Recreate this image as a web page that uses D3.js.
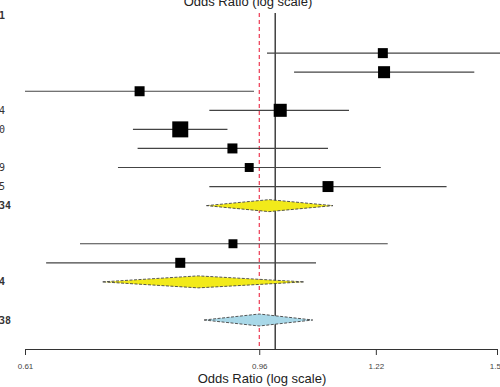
<!DOCTYPE html>
<html>
<head>
<meta charset="utf-8">
<script src="https://cdn.jsdelivr.net/npm/d3@7"></script>
<style>
  body { margin: 0; background: #fff; }
  svg { display: block; }
</style>
</head>
<body>
<div id="container"></div>
<script>
/* CONSTANTS AND GLOBALS */
const width = 500;
const height = 387;

/* DATA */
// one entry per row, top to bottom
const rowLabels = ["1", "", "", "", "", "4", "0", "", "9", "5", "34", "", "", "", "4", "", "38"];
const rowTypes = ["header", "blank", "study", "study", "study", "study", "study", "study", "study", "study",
  "summary", "blank", "study", "study", "summary", "blank", "overall"];
const orEst  = [null, null, 1.237, 1.240, 0.765, 1.010, 0.829, 0.919, 0.950, 1.110, 0.988, null, 0.920, 0.829, 0.859, null, 0.969];
const orLow  = [null, null, 0.984, 1.038, 0.610, 0.878, 0.755, 0.762, 0.733, 0.878, 0.873, null, 0.680, 0.636, 0.711, null, 0.869];
const orHigh = [null, null, 1.650, 1.482, 0.959, 1.157, 0.910, 1.110, 1.232, 1.403, 1.121, null, 1.249, 1.084, 1.059, null, 1.077];
const weights = [0, 0, 5.0, 7.2, 5.0, 8.5, 12.8, 5.0, 4.0, 6.0, 0, 0, 4.0, 5.0, 0, 0, 0];

const tickVals = [0.61, 0.969, 1.22, 1.55];
const tickLabels = ["0.61", "0.96", "1.22", "1.55"];
const overallOR = 0.969;
const nullOR = 1;

const rows = rowLabels.map((lab, i) => ({
  i, lab, type: rowTypes[i], est: orEst[i], lo: orLow[i], hi: orHigh[i], w: weights[i]
}));

/* SCALES */
const xScale = d3.scaleLog()
  .domain([0.61, 1.55])
  .range([25, 497]);

const yScale = d3.scaleLinear()
  .domain([0, rows.length - 1])
  .range([15, 320]);

const sizeScale = d3.scaleSqrt()
  .domain([0, d3.max(weights)])
  .range([0, 16]);

/* HTML ELEMENTS */
const svg = d3.select("#container")
  .append("svg")
  .attr("width", width)
  .attr("height", height);

const axisY = 349;

// reference lines
svg.append("line")
  .attr("x1", xScale(nullOR)).attr("x2", xScale(nullOR))
  .attr("y1", 13).attr("y2", axisY)
  .attr("stroke", "#111").attr("stroke-width", 1.2);

svg.append("line")
  .attr("x1", xScale(overallOR)).attr("x2", xScale(overallOR))
  .attr("y1", 13).attr("y2", axisY)
  .attr("stroke", "#e8102e").attr("stroke-width", 1)
  .attr("stroke-dasharray", "4,3");

const studies = rows.filter(d => d.type === "study");
const pooled = rows.filter(d => d.type === "summary" || d.type === "overall");

// confidence intervals
svg.selectAll("line.ci")
  .data(studies)
  .join("line")
  .attr("class", "ci")
  .attr("x1", d => xScale(d.lo))
  .attr("x2", d => xScale(d.hi))
  .attr("y1", d => yScale(d.i))
  .attr("y2", d => yScale(d.i))
  .attr("stroke", "#444")
  .attr("stroke-width", 1.2);

// squares
svg.selectAll("rect.box")
  .data(studies)
  .join("rect")
  .attr("class", "box")
  .attr("x", d => xScale(d.est) - sizeScale(d.w) / 2)
  .attr("y", d => yScale(d.i) - sizeScale(d.w) / 2)
  .attr("width", d => sizeScale(d.w))
  .attr("height", d => sizeScale(d.w))
  .attr("fill", "#000");

// diamonds
const dh = 6;
svg.selectAll("path.diamond")
  .data(pooled)
  .join("path")
  .attr("class", "diamond")
  .attr("d", d => {
    const y = yScale(d.i);
    return `M${xScale(d.lo)},${y}L${xScale(d.est)},${y - dh}L${xScale(d.hi)},${y}L${xScale(d.est)},${y + dh}Z`;
  })
  .attr("fill", d => d.type === "overall" ? "#a9d8e8" : "#f2ea1a")
  .attr("stroke", "#444")
  .attr("stroke-width", 0.9)
  .attr("stroke-dasharray", "3,1.5");

// row labels (clipped at the left edge)
svg.selectAll("text.lab")
  .data(rows.filter(d => d.lab !== ""))
  .join("text")
  .attr("class", "lab")
  .attr("x", -1)
  .attr("y", d => yScale(d.i) + 3.5)
  .attr("font-family", "'DejaVu Sans Mono', monospace")
  .attr("font-size", "10px")
  .attr("font-weight", d => d.type === "study" ? "normal" : "bold")
  .attr("fill", "#333")
  .text(d => d.lab);

// X-Axis
const xAxis = svg.append("g")
  .attr("class", "x-axis")
  .attr("transform", `translate(0,${axisY})`)
  .call(d3.axisBottom(xScale)
    .tickValues(tickVals)
    .tickFormat((d, i) => tickLabels[i])
    .tickSize(6)
    .tickSizeOuter(0));
xAxis.select(".domain").attr("stroke", "#333").attr("stroke-width", 1.2);
xAxis.selectAll(".tick line").attr("stroke", "#333");
xAxis.selectAll(".tick text")
  .attr("font-family", "'Liberation Sans', Arial, sans-serif")
  .attr("font-size", "8px")
  .attr("fill", "#444")
  .attr("dy", "1.4em");

// X-Axis labels, bottom and top
svg.append("text")
  .attr("text-anchor", "middle")
  .attr("x", 262)
  .attr("y", 383)
  .attr("font-family", "'Liberation Sans', Arial, sans-serif")
  .attr("font-size", "13px")
  .attr("fill", "#222")
  .text("Odds Ratio (log scale)");

svg.append("text")
  .attr("text-anchor", "middle")
  .attr("x", 248)
  .attr("y", 6)
  .attr("font-family", "'Liberation Sans', Arial, sans-serif")
  .attr("font-size", "13px")
  .attr("fill", "#222")
  .text("Odds Ratio (log scale)");
</script>
</body>
</html>
